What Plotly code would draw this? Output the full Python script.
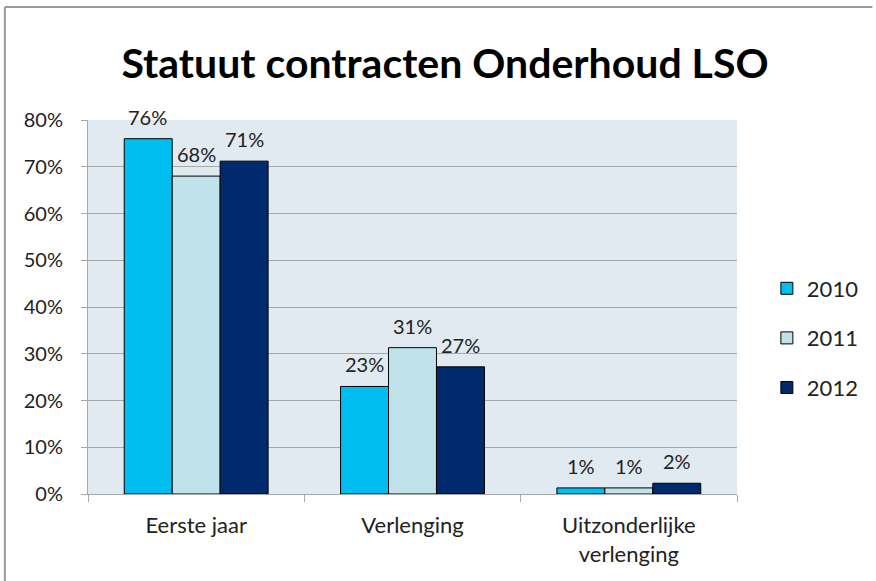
import plotly.graph_objects as go

categories = ["Eerste jaar", "Verlenging", "Uitzonderlijke<br>verlenging"]
series_names = ["2010", "2011", "2012"]
values_2010 = [0.76, 0.23, 0.013]
values_2011 = [0.68, 0.313, 0.013]
values_2012 = [0.712, 0.272, 0.023]
colors = ["#00BFF0", "#C0E2EB", "#012A6C"]

W, H = 876, 581
L, R, T, B = 88, 740, 120, 494
BARGAP = 0.335

fig = go.Figure()
all_vals = [values_2010, values_2011, values_2012]
for name, vals, col in zip(series_names, all_vals, colors):
    fig.add_trace(go.Bar(
        x=categories, y=vals, name=name, legendgroup=name,
        marker=dict(color=col, line=dict(color="#000000", width=1)),
        hoverinfo="skip",
    ))

# data labels (annotations anchored to each bar through the axes)
bar_px = (R - L) / len(categories) * (1 - BARGAP) / len(series_names)
annotations = []
for i, vals in enumerate(all_vals):
    for cat, v in zip(categories, vals):
        annotations.append(dict(
            x=cat, y=v, xref="x", yref="y", text=f"{v:.0%}", showarrow=False,
            yanchor="bottom", xanchor="center", yshift=8,
            xshift=(i - (len(series_names) - 1) / 2) * bar_px,
            font=dict(size=20, color="#222222"),
        ))

def px(x):
    return (x - L) / (R - L)

def py(y):
    return (B - y) / (B - T)

fig.update_layout(
    width=W, height=H,
    margin=dict(l=L, r=W - R, t=T, b=H - B),
    paper_bgcolor="white",
    plot_bgcolor="#E1E9F1",
    font=dict(family="Lato, Open Sans, sans-serif", color="#222222", size=20),
    title=dict(text="<b>Statuut contracten Onderhoud LSO</b>", x=0.508, xanchor="center",
               y=1 - 64 / H, yanchor="middle", font=dict(size=41, color="#000000")),
    barmode="group", bargap=BARGAP, bargroupgap=0,
    showlegend=True,
    legend=dict(x=px(770), xanchor="left", y=py(338), yanchor="middle",
                font=dict(size=22, color="#222222"), tracegroupgap=18,
                bgcolor="rgba(0,0,0,0)"),
    yaxis=dict(range=[0, 0.8], dtick=0.1, tickformat=".0%", showgrid=True,
               gridcolor="#A8A8A8", gridwidth=1, showline=True, linecolor="#A8A8A8",
               ticks="outside", ticklen=6, tickcolor="#A8A8A8", ticklabelstandoff=14,
               tickfont=dict(size=20, color="#222222"), zeroline=False),
    xaxis=dict(showline=True, linecolor="#A8A8A8", ticks="outside", tickson="boundaries",
               ticklen=7, tickcolor="#A8A8A8", ticklabelstandoff=12,
               tickfont=dict(size=22, color="#222222")),
    annotations=annotations,
    shapes=[
        dict(type="line", xref="paper", yref="paper", x0=px(4.5), x1=px(876), y0=py(7), y1=py(7),
             line=dict(color="#9A9A9A", width=2)),
        dict(type="line", xref="paper", yref="paper", x0=px(4.5), x1=px(4.5), y0=py(7), y1=py(581),
             line=dict(color="#9A9A9A", width=2)),
    ],
)

fig.write_html("out.html", config={"displayModeBar": False},
               post_script="document.body.style.margin='0';document.body.style.padding='0';")
